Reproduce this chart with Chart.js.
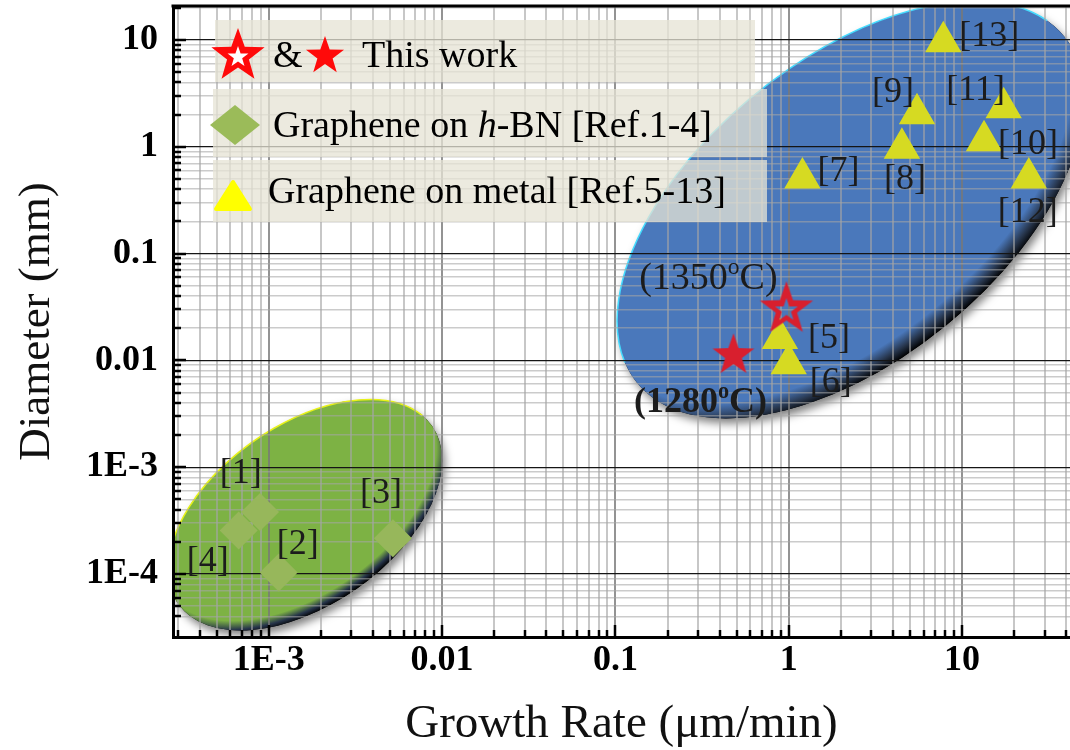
<!DOCTYPE html>
<html>
<head>
<meta charset="utf-8">
<script src="https://cdn.jsdelivr.net/npm/chart.js@4.4.1/dist/chart.umd.min.js"></script>
<style>
  html, body { margin: 0; padding: 0; background: #ffffff; }
  canvas { display: block; }
</style>
</head>
<body>
<canvas id="chart" width="1070" height="750"></canvas>
<script>
// ---- data -------------------------------------------------------------
// Graphene on h-BN, refs 1-4 (ref 1 reports two flakes)
const hbnRefs     = ['[1]', '', '[2]', '[3]', '[4]'];
const hbnRate     = [6.7e-4, 8.9e-4, 1.14e-3, 5.2e-3, 2.0e-4];
const hbnDiameter = [2.55e-4, 3.8e-4, 1.03e-4, 2.16e-4, 1.35e-4];

// Graphene on metal, refs 5-13
const metalRefs     = ['[5]', '[6]', '[7]', '[8]', '[9]', '[10]', '[11]', '[12]', '[13]'];
const metalRate     = [0.89, 1.0, 1.2, 4.5, 5.5, 13.4, 17.4, 24.3, 7.8];
const metalDiameter = [0.016, 0.0093, 0.51, 0.97, 2.04, 1.14, 2.32, 0.51, 9.6];

// This work: hollow star 1350 ºC, filled star 1280 ºC
const workLabels   = ['(1350ºC)', '(1280ºC)'];
const workRate     = [0.97, 0.48];
const workDiameter = [0.032, 0.0117];

// decade tick labels
const xTickValues = [1e-3, 0.01, 0.1, 1, 10];
const xTickLabels = ['1E-3', '0.01', '0.1', '1', '10'];
const yTickValues = [1e-4, 1e-3, 0.01, 0.1, 1, 10];
const yTickLabels = ['1E-4', '1E-3', '0.01', '0.1', '1', '10'];

// ---- helpers ----------------------------------------------------------
const SERIF = '"Liberation Serif", "Times New Roman", serif';

function isDecade(v) {
  const l = Math.log10(v);
  return Math.abs(l - Math.round(l)) < 1e-6;
}
function isNice(v) {
  const e = Math.floor(Math.log10(v) + 1e-9);
  const s = v / Math.pow(10, e);
  return Math.abs(s - Math.round(s)) < 1e-6;
}
function labelFor(v, values, labels) {
  for (let i = 0; i < values.length; i++) {
    if (Math.abs(Math.log10(v) - Math.log10(values[i])) < 1e-6) return labels[i];
  }
  return '';
}

function starPath(ctx, cx, cy, R, r) {
  ctx.beginPath();
  for (let i = 0; i < 10; i++) {
    const rad = (i % 2 === 0) ? R : r;
    const a = -Math.PI / 2 + i * Math.PI / 5;
    const px = cx + rad * Math.cos(a), py = cy + rad * Math.sin(a);
    if (i === 0) ctx.moveTo(px, py); else ctx.lineTo(px, py);
  }
  ctx.closePath();
}

function makeStar(R, color, hollowR) {
  const c = document.createElement('canvas');
  const size = Math.ceil(R * 2 + 4);
  c.width = size; c.height = size;
  const g = c.getContext('2d');
  const cx = size / 2, cy = size / 2 + R * 0.1;
  g.fillStyle = color;
  starPath(g, cx, cy, R, R * 0.4);
  g.fill();
  if (hollowR) {
    g.globalCompositeOperation = 'destination-out';
    starPath(g, cx, cy + 1, hollowR, hollowR * 0.4);
    g.fill();
  }
  return c;
}

const hollowStar = makeStar(28, '#d81f2e', 12);
const solidStar  = makeStar(22, '#d81f2e', 0);

// ---- plugins ----------------------------------------------------------
// shaded regions behind the grid
const regions = [
  { x: 2.28,   y: 0.257,  rx: 275, ry: 150, angle: -39,
    fill: '#4a78bb', rim: '#45dcff' },
  { x: 1.62e-3, y: 3.57e-4, rx: 155, ry: 90, angle: -35,
    fill: '#7db244', rim: '#e8f21a' }
];

const regionPlugin = {
  id: 'regions',
  beforeDraw(chart) {
    const { ctx, chartArea: a, scales: { x, y } } = chart;
    ctx.save();
    ctx.fillStyle = '#ffffff';
    ctx.fillRect(0, 0, chart.width, chart.height);
    ctx.beginPath();
    ctx.rect(a.left, a.top, a.right - a.left, a.bottom - a.top);
    ctx.clip();
    regions.forEach(r => {
      const cx = x.getPixelForValue(r.x), cy = y.getPixelForValue(r.y);
      const rot = r.angle * Math.PI / 180;
      // soft drop shadow
      ctx.save();
      ctx.shadowColor = 'rgba(0,0,0,0.5)';
      ctx.shadowBlur = 9;
      ctx.shadowOffsetX = 3;
      ctx.shadowOffsetY = 5;
      ctx.fillStyle = '#000';
      ctx.beginPath();
      ctx.ellipse(cx, cy, r.rx, r.ry, rot, 0, Math.PI * 2);
      ctx.fill();
      ctx.restore();
      // body with dark lower rim
      ctx.save();
      ctx.translate(cx, cy);
      ctx.rotate(rot);
      ctx.scale(r.rx, r.ry);
      const gr = ctx.createRadialGradient(0, -0.15, 0, 0, -0.15, 1.15);
      gr.addColorStop(0, r.fill);
      gr.addColorStop(0.88, r.fill);
      gr.addColorStop(0.95, '#26344a');
      gr.addColorStop(1, '#000000');
      ctx.fillStyle = gr;
      ctx.beginPath();
      ctx.arc(0, 0, 1, 0, Math.PI * 2);
      ctx.fill();
      ctx.restore();
      // bright upper rim
      ctx.strokeStyle = r.rim;
      ctx.lineWidth = 1.5;
      ctx.beginPath();
      ctx.ellipse(cx, cy, r.rx, r.ry, rot, Math.PI * 1.05, Math.PI * 1.95);
      ctx.stroke();
    });
    ctx.restore();
  }
};

// tick marks pointing into the plot and the top frame line
const framePlugin = {
  id: 'frame',
  afterDatasetsDraw(chart) {
    const { ctx, chartArea: a, scales: { x, y } } = chart;
    ctx.save();
    ctx.strokeStyle = '#000';
    ctx.lineWidth = 2.5;
    x.ticks.forEach(t => {
      if (!isNice(t.value)) return;
      const px = Math.round(x.getPixelForValue(t.value));
      const len = isDecade(t.value) ? 12 : 7;
      ctx.beginPath(); ctx.moveTo(px, a.bottom); ctx.lineTo(px, a.bottom - len); ctx.stroke();
    });
    y.ticks.forEach(t => {
      if (!isNice(t.value)) return;
      const py = Math.round(y.getPixelForValue(t.value));
      const len = isDecade(t.value) ? 13 : 8;
      ctx.beginPath(); ctx.moveTo(a.left, py); ctx.lineTo(a.left + len, py); ctx.stroke();
    });
    ctx.lineWidth = 3;
    ctx.beginPath(); ctx.moveTo(a.left - 1.5, a.top); ctx.lineTo(a.right, a.top); ctx.stroke();
    ctx.restore();
  }
};

// reference tags next to the markers, offsets per dataset / point
const labelOffsets = [
  [[-78, -27]],
  [[-33, 50]],
  [[49, 0], [42, 19], [36, -6], [3, 31], [-24, -21], [44, 4], [-28, -17], [-1, 35], [46, -5]],
  [[2, -57], [0, 0], [19, -28], [-12, -45], [60, 1]]
];

function drawTemp(ctx, text, cx, cy, bold, size) {
  const parts = text.split('º');
  const f = s => (bold ? 'bold ' : '') + s + 'px ' + SERIF;
  ctx.font = f(size);
  const wa = ctx.measureText(parts[0]).width, wb = ctx.measureText(parts[1]).width;
  ctx.font = f(size * 0.62);
  const wo = ctx.measureText('o').width;
  let px = cx - (wa + wo + wb) / 2;
  ctx.textAlign = 'left';
  ctx.textBaseline = 'middle';
  ctx.font = f(size); ctx.fillText(parts[0], px, cy); px += wa;
  ctx.font = f(size * 0.62); ctx.fillText('o', px, cy - size * 0.3); px += wo;
  ctx.font = f(size); ctx.fillText(parts[1], px, cy);
}

const tagPlugin = {
  id: 'tags',
  afterDatasetsDraw(chart) {
    const { ctx } = chart;
    ctx.save();
    ctx.fillStyle = '#1c1c1c';
    chart.data.datasets.forEach((ds, di) => {
      const meta = chart.getDatasetMeta(di);
      (ds.tags || []).forEach((txt, i) => {
        if (!txt) return;
        const el = meta.data[i];
        const off = labelOffsets[di][i];
        const lx = el.x + off[0], ly = el.y + off[1];
        if (txt.indexOf('º') >= 0) {
          drawTemp(ctx, txt, lx, ly, di === 1, di === 1 ? 36 : 38);
        } else {
          ctx.font = '36px ' + SERIF;
          ctx.textAlign = 'center';
          ctx.textBaseline = 'middle';
          ctx.fillText(txt, lx, ly);
        }
      });
    });
    ctx.restore();
  }
};

// legend panel
const legendPlugin = {
  id: 'panel',
  afterDraw(chart) {
    const { ctx, chartArea: a } = chart;
    const L = a.left, T = a.top;
    ctx.save();
    ctx.fillStyle = 'rgba(230,227,213,0.76)';
    ctx.fillRect(L + 42, T + 14, 540, 62);
    ctx.fillRect(L + 40, T + 83, 554, 68);
    ctx.fillRect(L + 40, T + 154, 554, 62);

    ctx.fillStyle = '#000';
    ctx.textAlign = 'left';
    ctx.textBaseline = 'alphabetic';
    ctx.font = '38px ' + SERIF;

    // row 1: hollow & solid star
    ctx.fillStyle = '#ff0a0a';
    starPath(ctx, L + 65, T + 50, 28, 11.5); ctx.fill();
    ctx.fillStyle = '#ffffff';
    starPath(ctx, L + 65, T + 51, 11, 4.4); ctx.fill();
    ctx.fillStyle = '#ff0a0a';
    starPath(ctx, L + 152, T + 50, 20, 8); ctx.fill();
    ctx.fillStyle = '#000';
    ctx.fillText('&', L + 100, T + 61);
    ctx.fillText('This work', L + 189, T + 61);

    // row 2: diamond
    ctx.fillStyle = '#9bbb59';
    ctx.beginPath();
    const dx = L + 62, dy = T + 119;
    ctx.moveTo(dx - 25, dy); ctx.lineTo(dx, dy - 20); ctx.lineTo(dx + 25, dy); ctx.lineTo(dx, dy + 20);
    ctx.closePath(); ctx.fill();
    ctx.fillStyle = '#000';
    let px = L + 100;
    const by = T + 131;
    ctx.font = '38px ' + SERIF;
    ctx.fillText('Graphene on ', px, by); px += ctx.measureText('Graphene on ').width;
    ctx.font = 'italic 38px ' + SERIF;
    ctx.fillText('h', px, by); px += ctx.measureText('h').width;
    ctx.font = '38px ' + SERIF;
    ctx.fillText('-BN [Ref.1-4]', px, by);

    // row 3: triangle
    ctx.fillStyle = '#ffff00';
    ctx.strokeStyle = '#ffff00';
    ctx.lineWidth = 4;
    ctx.lineJoin = 'round';
    ctx.beginPath();
    ctx.moveTo(L + 60, T + 176); ctx.lineTo(L + 77, T + 203); ctx.lineTo(L + 43, T + 203);
    ctx.closePath(); ctx.fill(); ctx.stroke();
    ctx.fillStyle = '#000';
    ctx.fillText('Graphene on metal [Ref.5-13]', L + 95, T + 197);
    ctx.restore();
  }
};

// ---- chart ------------------------------------------------------------
const toPts = (xs, ys) => xs.map((v, i) => ({ x: v, y: ys[i] }));

new Chart(document.getElementById('chart'), {
  type: 'scatter',
  data: {
    datasets: [
      { label: 'This work (1350 ºC)', data: [{ x: workRate[0], y: workDiameter[0] }],
        tags: [workLabels[0]], pointStyle: hollowStar, pointRadius: 28 },
      { label: 'This work (1280 ºC)', data: [{ x: workRate[1], y: workDiameter[1] }],
        tags: [workLabels[1]], pointStyle: solidStar, pointRadius: 22 },
      { label: 'Graphene on metal', data: toPts(metalRate, metalDiameter), tags: metalRefs,
        pointStyle: 'triangle', pointRadius: 19, backgroundColor: '#d6da22',
        borderColor: '#d6da22', borderWidth: 2 },
      { label: 'Graphene on h-BN', data: toPts(hbnRate, hbnDiameter), tags: hbnRefs,
        pointStyle: 'rectRot', pointRadius: 19, backgroundColor: '#97b75b',
        borderWidth: 0, clip: 0 }
    ]
  },
  options: {
    responsive: false,
    animation: false,
    devicePixelRatio: 1,
    layout: { autoPadding: false, padding: { top: 6, left: 0, right: 0, bottom: 0 } },
    plugins: { legend: { display: false }, tooltip: { enabled: false } },
    scales: {
      x: {
        type: 'logarithmic',
        min: 2.8e-4, max: 42,
        afterFit(scale) {
          scale.height = 113;
          scale.paddingLeft = 0; scale.paddingRight = 0;
        },
        border: { display: true, color: '#000', width: 3 },
        grid: {
          drawTicks: false,
          color: c => !c.tick ? 'rgba(0,0,0,0)' :
            isDecade(c.tick.value) ? 'rgba(120,120,120,0.8)' :
            isNice(c.tick.value) ? 'rgba(165,165,165,0.62)' : 'rgba(0,0,0,0)',
          lineWidth: 2
        },
        ticks: {
          autoSkip: false, maxRotation: 0, minRotation: 0, padding: 2,
          color: '#000',
          font: { family: SERIF, size: 36, weight: 'bold' },
          callback: v => labelFor(v, xTickValues, xTickLabels)
        },
        title: {
          display: true, text: 'Growth Rate (μm/min)', color: '#111',
          font: { family: SERIF, size: 47 }, padding: { top: 0, bottom: -3 }
        }
      },
      y: {
        type: 'logarithmic',
        min: 2.57e-5, max: 20.8,
        afterFit(scale) {
          scale.width = 173;
          scale.paddingTop = 0; scale.paddingBottom = 0;
        },
        border: { display: true, color: '#000', width: 3 },
        grid: {
          drawTicks: false,
          color: c => !c.tick ? 'rgba(0,0,0,0)' :
            isDecade(c.tick.value) ? '#151515' :
            isNice(c.tick.value) ? 'rgba(165,165,165,0.58)' : 'rgba(0,0,0,0)',
          lineWidth: c => (c.tick && isDecade(c.tick.value)) ? 1.2 : 1.6
        },
        ticks: {
          autoSkip: false, padding: 15,
          color: '#000',
          font: { family: SERIF, size: 36, weight: 'bold' },
          callback: v => labelFor(v, yTickValues, yTickLabels)
        },
        title: {
          display: true, text: 'Diameter (mm)', color: '#111',
          font: { family: SERIF, size: 45 }, padding: { top: 10, bottom: 0 }
        }
      }
    }
  },
  plugins: [regionPlugin, framePlugin, tagPlugin, legendPlugin]
});
</script>
</body>
</html>
